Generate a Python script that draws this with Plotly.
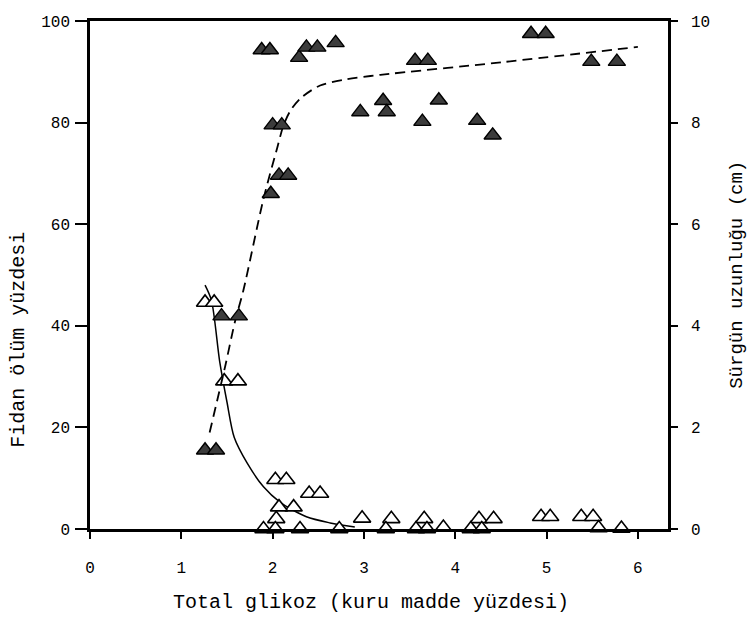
import plotly.graph_objects as go

# Filled triangles: shoot length (cm), right axis
shoot_x = [1.26, 1.38, 1.44, 1.63, 1.88, 1.97, 1.98, 2.00, 2.10, 2.07, 2.17, 2.29, 2.37, 2.49,
           2.69, 2.96, 3.21, 3.25, 3.56, 3.70, 3.64, 3.82, 4.24, 4.41, 4.83, 4.99, 5.49, 5.77]
shoot_y = [1.55, 1.55, 4.19, 4.19, 9.43, 9.43, 6.60, 7.95, 7.95, 6.96, 6.96, 9.28, 9.48, 9.48,
           9.57, 8.21, 8.43, 8.21, 9.22, 9.22, 8.02, 8.44, 8.04, 7.75, 9.75, 9.75, 9.20, 9.20]

# Open triangles: seedling mortality (%), left axis
mort_x = [1.26, 1.36, 1.47, 1.62, 2.03, 2.15, 2.40, 2.52, 2.23, 2.07, 2.04, 1.90, 2.03, 2.30,
          2.73, 2.98, 3.30, 3.24, 3.66, 3.57, 3.69, 3.87, 4.26, 4.42, 4.17, 4.29, 4.94, 5.04,
          5.38, 5.51, 5.57, 5.82]
mort_y = [44.6, 44.6, 29.1, 29.1, 9.7, 9.7, 7.0, 7.0, 4.3, 4.3, 2.0, 0.0, 0.0, 0.0,
          0.0, 2.1, 2.0, 0.0, 2.0, 0.0, 0.0, 0.3, 2.0, 2.0, 0.0, 0.0, 2.4, 2.4,
          2.4, 2.4, 0.2, 0.1]

# Fitted curves
mort_fit_x = [1.26, 1.33, 1.42, 1.50, 1.58, 1.72, 1.90, 2.08, 2.37, 2.63, 2.90]
mort_fit_y = [48, 45, 33, 25, 18, 13, 8.3, 5.3, 2.4, 1.2, 0.4]

shoot_fit_x = [1.31, 1.48, 1.59, 1.68, 1.90, 2.05, 2.12, 2.20, 2.32, 2.52, 2.80, 3.18, 4.52, 6.0]
shoot_fit_y = [1.9, 3.2, 4.1, 4.7, 6.5, 7.5, 7.95, 8.25, 8.5, 8.73, 8.85, 8.94, 9.19, 9.49]

x_ticks = [0, 1, 2, 3, 4, 5, 6]
left_ticks = [0, 20, 40, 60, 80, 100]
right_ticks = [0, 2, 4, 6, 8, 10]

MONO = "Liberation Mono"

fig = go.Figure()
fig.add_trace(go.Scatter(x=shoot_fit_x, y=shoot_fit_y, mode="lines", yaxis="y2",
                         line=dict(color="black", width=1.8, dash="10px,6px", shape="spline", smoothing=0.8),
                         showlegend=False, hoverinfo="skip"))
fig.add_trace(go.Scatter(x=mort_fit_x, y=mort_fit_y, mode="lines",
                         line=dict(color="black", width=1.5, shape="spline", smoothing=0.8),
                         showlegend=False, hoverinfo="skip"))
fig.add_trace(go.Scatter(x=mort_x, y=mort_y, mode="markers", cliponaxis=False,
                         marker=dict(symbol="triangle-up", size=15, color="white",
                                     line=dict(color="black", width=1.6)),
                         showlegend=False))
fig.add_trace(go.Scatter(x=shoot_x, y=shoot_y, mode="markers", yaxis="y2", cliponaxis=False,
                         marker=dict(symbol="triangle-up", size=15, color="#3c3c3c",
                                     line=dict(color="black", width=1.4)),
                         showlegend=False))

fig.update_layout(
    width=751, height=617,
    margin=dict(l=90, r=83, t=21, b=88, autoexpand=False),
    plot_bgcolor="white", paper_bgcolor="white",
    font=dict(family=MONO, size=16, color="black"),
    xaxis=dict(range=[0, 6.33], tickvals=x_ticks, showline=True, linecolor="black", linewidth=2.5,
               mirror=True, ticks="outside", ticklen=7, tickwidth=1.5, tickcolor="black",
               showgrid=False, zeroline=False, ticklabelstandoff=15, automargin=False,
               tickfont=dict(family=MONO, size=16)),
    yaxis=dict(range=[0, 100], tickvals=left_ticks, showline=True, linecolor="black", linewidth=2.5,
               ticks="outside", ticklen=12, tickwidth=1.5, tickcolor="black",
               showgrid=False, zeroline=False, ticklabelstandoff=2, automargin=False,
               tickfont=dict(family=MONO, size=16)),
    yaxis2=dict(range=[0, 10], tickvals=right_ticks, overlaying="y", side="right",
                showline=True, linecolor="black", linewidth=2.5,
                ticks="outside", ticklen=7, tickwidth=1.5, tickcolor="black",
                showgrid=False, zeroline=False, ticklabelstandoff=10, automargin=False,
                tickfont=dict(family=MONO, size=16)),
    annotations=[
        dict(text="Total glikoz (kuru madde yüzdesi)", xref="paper", yref="paper",
             x=0.486, y=-0.144, showarrow=False, font=dict(family=MONO, size=20),
             xanchor="center", yanchor="middle"),
        dict(text="Fidan ölüm yüzdesi", xref="paper", yref="paper",
             x=-0.125, y=0.372, showarrow=False, textangle=-90, font=dict(family=MONO, size=20),
             xanchor="center", yanchor="middle"),
        dict(text="Sürgün uzunluğu (cm)", xref="paper", yref="paper",
             x=1.119, y=0.50, showarrow=False, textangle=-90, font=dict(family=MONO, size=19),
             xanchor="center", yanchor="middle"),
    ],
)

fig.write_html("out.html", config={"displayModeBar": False},
               post_script="document.body.style.margin='0px';document.body.style.overflow='hidden';")
